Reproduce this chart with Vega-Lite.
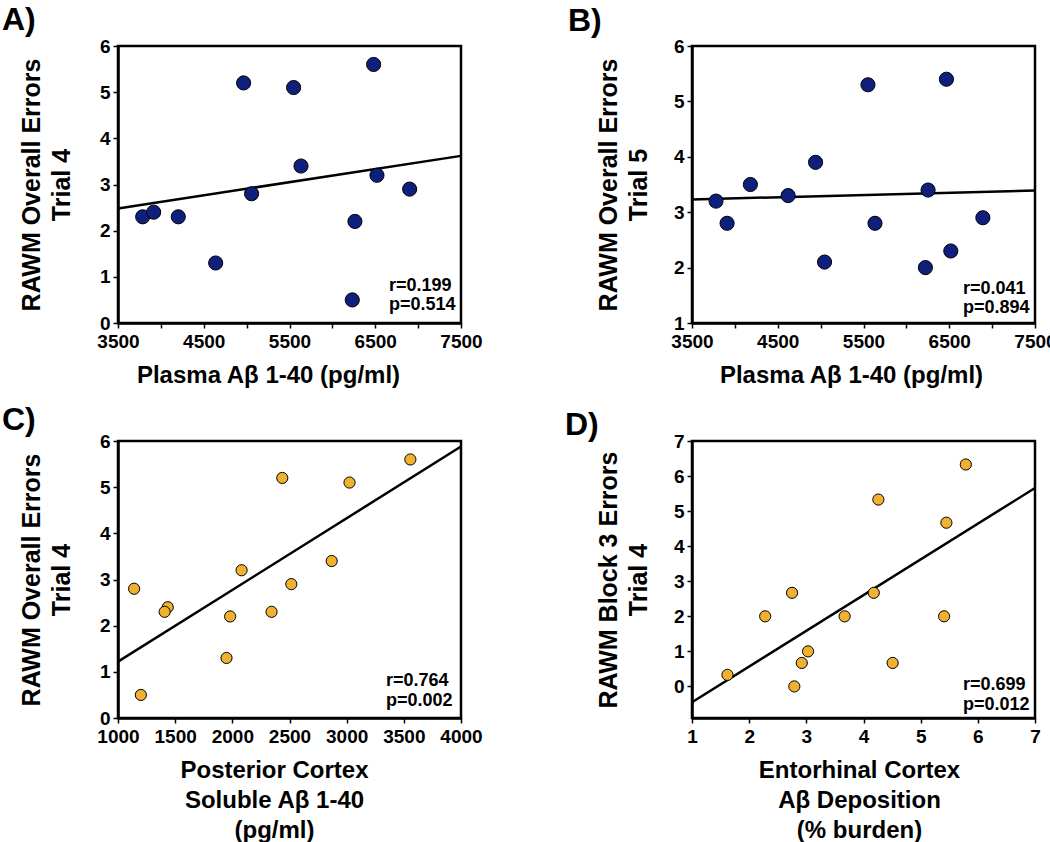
{
  "$schema": "https://vega.github.io/schema/vega-lite/v6.json",
  "background": "white",
  "padding": {"left": 0, "top": 2, "right": 0, "bottom": 0},
  "autosize": {"type": "pad"},
  "columns": 2,
  "spacing": {"row": 118, "column": 231},
  "bounds": "flush",
  "config": {
    "font": "Liberation Sans",
    "view": {"stroke": "black", "strokeWidth": 2.5},
    "axis": {
      "domainColor": "black", "domainWidth": 2.5,
      "tickColor": "black", "tickWidth": 1.5, "tickSize": 5,
      "labelFont": "Liberation Sans", "labelFontSize": 19, "labelFontWeight": "bold", "labelColor": "black",
      "labelFlush": false, "labelOverlap": false, "labelBound": false,
      "titleFont": "Liberation Sans", "titleFontSize": 24, "titleFontWeight": "bold", "titleColor": "black",
      "titleLineHeight": 30, "grid": false
    },
    "axisX": {"labelPadding": 4, "titlePadding": 12},
    "axisY": {"labelPadding": 3, "titleFontSize": 25},
    "title": {"font": "Liberation Sans", "fontSize": 32, "fontWeight": "bold", "color": "black", "anchor": "start", "frame": "group", "baseline": "alphabetic"}
  },
  "datasets": {
    "ptsA": [
      {"x": 3788, "y": 2.3}, {"x": 3916, "y": 2.4}, {"x": 4203, "y": 2.3}, {"x": 4639, "y": 1.3},
      {"x": 4965, "y": 5.2}, {"x": 5058, "y": 2.8}, {"x": 5548, "y": 5.1}, {"x": 5634, "y": 3.4},
      {"x": 6232, "y": 0.5}, {"x": 6263, "y": 2.2}, {"x": 6481, "y": 5.6}, {"x": 6520, "y": 3.2},
      {"x": 6901, "y": 2.9}
    ],
    "lineA": [{"x": 3500, "y": 2.48}, {"x": 7500, "y": 3.62}],
    "txtA": [{"x": 6660, "y": 0.69, "t": "r=0.199"}, {"x": 6660, "y": 0.28, "t": "p=0.514"}],
    "ptsB": [
      {"x": 3780, "y": 3.2}, {"x": 3909, "y": 2.8}, {"x": 4181, "y": 3.5}, {"x": 4621, "y": 3.3},
      {"x": 4941, "y": 3.9}, {"x": 5046, "y": 2.1}, {"x": 5552, "y": 5.3}, {"x": 5634, "y": 2.8},
      {"x": 6222, "y": 2.0}, {"x": 6253, "y": 3.4}, {"x": 6467, "y": 5.4}, {"x": 6518, "y": 2.3},
      {"x": 6892, "y": 2.9}
    ],
    "lineB": [{"x": 3500, "y": 3.23}, {"x": 7500, "y": 3.39}],
    "txtB": [{"x": 6660, "y": 1.52, "t": "r=0.041"}, {"x": 6660, "y": 1.18, "t": "p=0.894"}],
    "ptsC": [
      {"x": 1141, "y": 2.8}, {"x": 1200, "y": 0.5}, {"x": 1435, "y": 2.4}, {"x": 1408, "y": 2.3},
      {"x": 1949, "y": 1.3}, {"x": 1981, "y": 2.2}, {"x": 2081, "y": 3.2}, {"x": 2343, "y": 2.3},
      {"x": 2437, "y": 5.2}, {"x": 2516, "y": 2.9}, {"x": 2869, "y": 3.4}, {"x": 3025, "y": 5.1},
      {"x": 3557, "y": 5.6}
    ],
    "lineC": [{"x": 1000, "y": 1.22}, {"x": 4000, "y": 5.88}],
    "txtC": [{"x": 3344, "y": 0.69, "t": "r=0.764"}, {"x": 3344, "y": 0.26, "t": "p=0.002"}],
    "ptsD": [
      {"x": 1.62, "y": 0.33}, {"x": 2.28, "y": 2.0}, {"x": 2.75, "y": 2.67}, {"x": 2.79, "y": 0.0},
      {"x": 2.92, "y": 0.67}, {"x": 3.03, "y": 1.0}, {"x": 3.67, "y": 2.0}, {"x": 4.18, "y": 2.67},
      {"x": 4.26, "y": 5.33}, {"x": 4.51, "y": 0.67}, {"x": 5.41, "y": 2.0}, {"x": 5.45, "y": 4.67},
      {"x": 5.79, "y": 6.33}
    ],
    "lineD": [{"x": 1, "y": -0.45}, {"x": 7, "y": 5.66}],
    "txtD": [{"x": 5.74, "y": -0.1, "t": "r=0.699"}, {"x": 5.74, "y": -0.67, "t": "p=0.012"}]
  },
  "concat": [
    {
      "width": 343, "height": 277,
      "title": {"text": "A)", "dx": -116, "offset": 0.5},
      "encoding": {
        "x": {"field": "x", "type": "quantitative",
          "scale": {"domain": [3500, 7500], "nice": false, "zero": false},
          "axis": {"title": "Plasma Aβ 1-40 (pg/ml)", "values": [3500, 4000, 4500, 5000, 5500, 6000, 6500, 7000, 7500],
            "format": "d", "labelExpr": "datum.value % 1000 == 500 ? datum.label : ''", "titleX": 150}},
        "y": {"field": "y", "type": "quantitative",
          "scale": {"domain": [0, 6], "nice": false, "zero": false},
          "axis": {"title": ["RAWM Overall Errors", "Trial 4"], "values": [0, 1, 2, 3, 4, 5, 6], "titlePadding": 25}}
      },
      "layer": [
        {"data": {"name": "lineA"}, "mark": {"type": "line", "color": "black", "strokeWidth": 2.5}},
        {"data": {"name": "ptsA"}, "mark": {"type": "point", "shape": "circle", "filled": true, "fill": "#0f1f7c", "stroke": "black", "strokeWidth": 1, "size": 200, "opacity": 1}},
        {"data": {"name": "txtA"}, "mark": {"type": "text", "align": "left", "baseline": "alphabetic", "fontSize": 18, "fontWeight": "bold", "color": "black"},
          "encoding": {"text": {"field": "t", "type": "nominal"}}}
      ]
    },
    {
      "width": 343, "height": 277,
      "title": {"text": "B)", "dx": -124, "offset": -0.5},
      "encoding": {
        "x": {"field": "x", "type": "quantitative",
          "scale": {"domain": [3500, 7500], "nice": false, "zero": false},
          "axis": {"title": "Plasma Aβ 1-40 (pg/ml)", "values": [3500, 4000, 4500, 5000, 5500, 6000, 6500, 7000, 7500],
            "format": "d", "labelExpr": "datum.value % 1000 == 500 ? datum.label : ''", "titleX": 159}},
        "y": {"field": "y", "type": "quantitative",
          "scale": {"domain": [1, 6], "nice": false, "zero": false},
          "axis": {"title": ["RAWM Overall Errors", "Trial 5"], "values": [1, 2, 3, 4, 5, 6], "titlePadding": 22}}
      },
      "layer": [
        {"data": {"name": "lineB"}, "mark": {"type": "line", "color": "black", "strokeWidth": 2.5}},
        {"data": {"name": "ptsB"}, "mark": {"type": "point", "shape": "circle", "filled": true, "fill": "#0f1f7c", "stroke": "black", "strokeWidth": 1, "size": 200, "opacity": 1}},
        {"data": {"name": "txtB"}, "mark": {"type": "text", "align": "left", "baseline": "alphabetic", "fontSize": 18, "fontWeight": "bold", "color": "black"},
          "encoding": {"text": {"field": "t", "type": "nominal"}}}
      ]
    },
    {
      "width": 343, "height": 277,
      "title": {"text": "C)", "dx": -116, "offset": -4.5},
      "encoding": {
        "x": {"field": "x", "type": "quantitative",
          "scale": {"domain": [1000, 4000], "nice": false, "zero": false},
          "axis": {"title": ["Posterior Cortex", "Soluble  Aβ 1-40", "(pg/ml)"], "values": [1000, 1500, 2000, 2500, 3000, 3500, 4000],
            "format": "d", "titleX": 156}},
        "y": {"field": "y", "type": "quantitative",
          "scale": {"domain": [0, 6], "nice": false, "zero": false},
          "axis": {"title": ["RAWM Overall Errors", "Trial 4"], "values": [0, 1, 2, 3, 4, 5, 6], "titlePadding": 25}}
      },
      "layer": [
        {"data": {"name": "lineC"}, "mark": {"type": "line", "color": "black", "strokeWidth": 2.5}},
        {"data": {"name": "ptsC"}, "mark": {"type": "point", "shape": "circle", "filled": true, "fill": "#f0b030", "stroke": "black", "strokeWidth": 1, "size": 125, "opacity": 1}},
        {"data": {"name": "txtC"}, "mark": {"type": "text", "align": "left", "baseline": "alphabetic", "fontSize": 18, "fontWeight": "bold", "color": "black"},
          "encoding": {"text": {"field": "t", "type": "nominal"}}}
      ]
    },
    {
      "width": 343, "height": 277,
      "title": {"text": "D)", "dx": -127, "offset": -9.5},
      "encoding": {
        "x": {"field": "x", "type": "quantitative",
          "scale": {"domain": [1, 7], "nice": false, "zero": false},
          "axis": {"title": ["Entorhinal Cortex", "Aβ Deposition", "(% burden)"], "values": [1, 2, 3, 4, 5, 6, 7],
            "format": "d", "titleX": 167}},
        "y": {"field": "y", "type": "quantitative",
          "scale": {"domain": [-0.9, 7], "nice": false, "zero": false},
          "axis": {"title": ["RAWM Block 3 Errors", "Trial 4"], "values": [0, 1, 2, 3, 4, 5, 6, 7], "format": "d", "titlePadding": 22}}
      },
      "layer": [
        {"data": {"name": "lineD"}, "mark": {"type": "line", "color": "black", "strokeWidth": 2.5}},
        {"data": {"name": "ptsD"}, "mark": {"type": "point", "shape": "circle", "filled": true, "fill": "#f0b030", "stroke": "black", "strokeWidth": 1, "size": 125, "opacity": 1}},
        {"data": {"name": "txtD"}, "mark": {"type": "text", "align": "left", "baseline": "alphabetic", "fontSize": 18, "fontWeight": "bold", "color": "black"},
          "encoding": {"text": {"field": "t", "type": "nominal"}}}
      ]
    }
  ]
}
